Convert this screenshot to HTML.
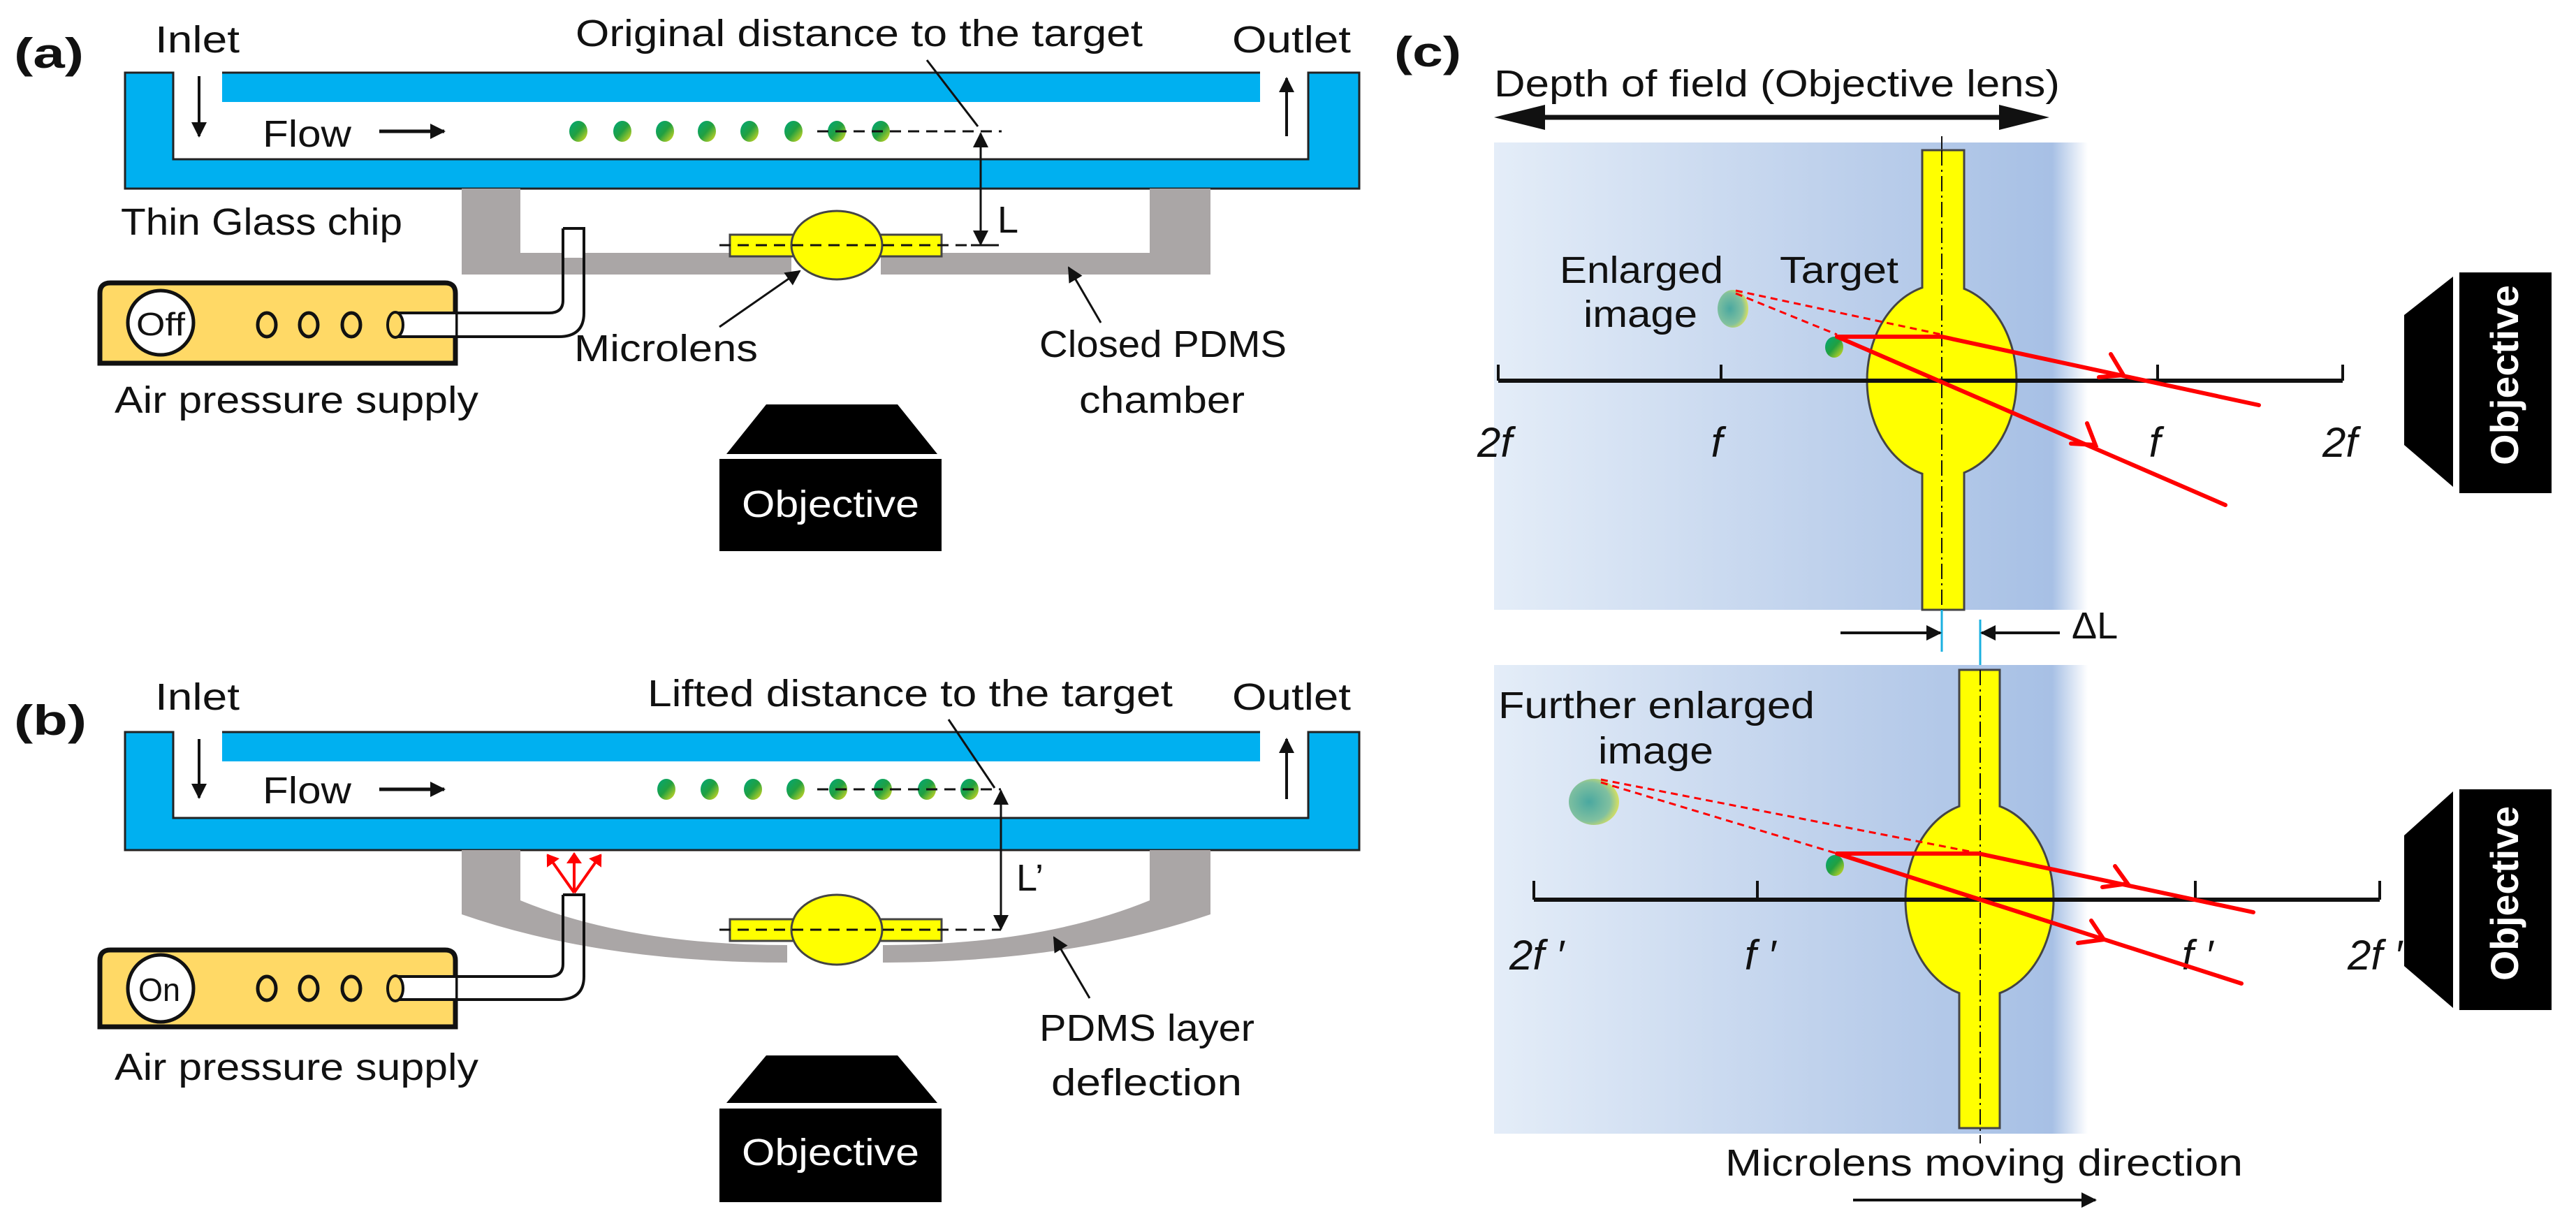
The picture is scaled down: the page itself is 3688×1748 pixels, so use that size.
<!DOCTYPE html>
<html><head><meta charset="utf-8"><style>
html,body{margin:0;padding:0;background:#fff}
svg{display:block}
text{font-family:"Liberation Sans",sans-serif;fill:#111}
</style></head><body>
<svg width="3688" height="1748" viewBox="0 0 3688 1748" xmlns="http://www.w3.org/2000/svg">
<defs>
<linearGradient id="bg" x1="0" x2="1" y1="0" y2="0">
<stop offset="0" stop-color="#e4edf8"/><stop offset="0.6" stop-color="#bccfeb"/><stop offset="0.94" stop-color="#a7c0e5"/><stop offset="1" stop-color="#ffffff"/>
</linearGradient>
<linearGradient id="pt" x1="0" x2="1" y1="0" y2="1">
<stop offset="0" stop-color="#00a878"/><stop offset="0.5" stop-color="#22a040"/><stop offset="1" stop-color="#e8e020"/>
</linearGradient>
<radialGradient id="blob" cx="0.4" cy="0.5" r="0.6">
<stop offset="0" stop-color="#4aa8a0"/><stop offset="0.7" stop-color="#80c0a0"/><stop offset="1" stop-color="#d8e060"/>
</radialGradient>
<marker id="ahB" markerWidth="22" markerHeight="22" refX="20" refY="11" orient="auto" markerUnits="userSpaceOnUse" viewBox="0 0 22 22"><path d="M0,0 L22,11 L0,22 z" fill="#111"/></marker>
<marker id="ahR" markerWidth="16" markerHeight="22" refX="14" refY="11" orient="auto" markerUnits="userSpaceOnUse" viewBox="0 0 16 22"><path d="M0,0 L16,11 L0,22 z" fill="#f00"/></marker>
</defs>

<!-- ================= PANEL A ================= -->
<text x="20" y="97" font-size="60" font-weight="bold" textLength="100" lengthAdjust="spacingAndGlyphs">(a)</text>
<text x="222" y="75" font-size="54" textLength="121" lengthAdjust="spacingAndGlyphs">Inlet</text>
<text x="824" y="66" font-size="54" textLength="812" lengthAdjust="spacingAndGlyphs">Original distance to the target</text>
<text x="1764" y="75" font-size="54" textLength="170" lengthAdjust="spacingAndGlyphs">Outlet</text>
<path d="M179,104 H248 V228 H1873 V104 H1946 V270 H179 Z" fill="#00b0f0" stroke="#222" stroke-width="3"/>
<rect x="318" y="104" width="1486" height="42" fill="#00b0f0"/>
<line x1="318" y1="104" x2="1804" y2="104" stroke="#222" stroke-width="3"/>
<line x1="285" y1="109" x2="285" y2="195" stroke="#111" stroke-width="4" marker-end="url(#ahB)"/>
<line x1="1842" y1="195" x2="1842" y2="112" stroke="#111" stroke-width="4" marker-end="url(#ahB)"/>
<text x="376" y="210" font-size="54" textLength="127" lengthAdjust="spacingAndGlyphs">Flow</text>
<line x1="543" y1="188" x2="636" y2="188" stroke="#111" stroke-width="5" marker-end="url(#ahB)"/>
<g fill="url(#pt)">
<ellipse cx="828" cy="188" rx="13" ry="15"/><ellipse cx="891" cy="188" rx="13" ry="15"/><ellipse cx="952" cy="188" rx="13" ry="15"/><ellipse cx="1012" cy="188" rx="13" ry="15"/><ellipse cx="1073" cy="188" rx="13" ry="15"/><ellipse cx="1136" cy="188" rx="13" ry="15"/><ellipse cx="1198" cy="188" rx="13" ry="15"/><ellipse cx="1261" cy="188" rx="13" ry="15"/>
</g>
<line x1="1170" y1="188" x2="1434" y2="188" stroke="#111" stroke-width="3" stroke-dasharray="16,10"/>
<line x1="1327" y1="86" x2="1400" y2="181" stroke="#111" stroke-width="3"/>
<path d="M661,270 H745 V362 H1133 V393 H661 Z" fill="#aaa6a6"/>
<path d="M1261,362 H1646 V270 H1733 V393 H1261 Z" fill="#aaa6a6"/>
<path d="M806,327 H836 V448 Q836,482 800,482 H570 M806,327 V430 Q806,448 786,448 H652" fill="none" stroke="#111" stroke-width="4"/>
<rect x="808" y="329" width="26" height="40" fill="#fff"/>
<path d="M806,327 H836" stroke="#111" stroke-width="4"/>
<path d="M143,520 V420 Q143,405 158,405 H637 Q652,405 652,420 V520 Z" fill="#ffd966" stroke="#111" stroke-width="7"/>
<path d="M570,448 H652 M570,482 H652" stroke="#111" stroke-width="4"/>
<rect x="574" y="450" width="78" height="30" fill="#fff"/>
<ellipse cx="566" cy="465" rx="11" ry="18" fill="#ffd966" stroke="#111" stroke-width="4"/>
<ellipse cx="230" cy="462" rx="47" ry="46" fill="#fff" stroke="#111" stroke-width="5"/>
<text x="230" y="480" font-size="46" text-anchor="middle" textLength="70" lengthAdjust="spacingAndGlyphs">Off</text>
<g fill="none" stroke="#111" stroke-width="5"><ellipse cx="382" cy="465" rx="13" ry="17"/><ellipse cx="442" cy="465" rx="13" ry="17"/><ellipse cx="503" cy="465" rx="13" ry="17"/></g>
<rect x="1045" y="336" width="303" height="31" fill="#ffff00" stroke="#444" stroke-width="3"/>
<ellipse cx="1198" cy="351" rx="65" ry="49" fill="#ffff00" stroke="#444" stroke-width="3"/>
<line x1="1030" y1="351" x2="1430" y2="351" stroke="#111" stroke-width="3" stroke-dasharray="16,10"/>
<line x1="1404" y1="270" x2="1404" y2="191" stroke="#111" stroke-width="3" marker-end="url(#ahB)"/>
<line x1="1404" y1="270" x2="1404" y2="350" stroke="#111" stroke-width="3" marker-end="url(#ahB)"/>
<line x1="1390" y1="351" x2="1430" y2="351" stroke="#111" stroke-width="3"/>
<text x="1428" y="333" font-size="54">L</text>
<text x="173" y="336" font-size="54" textLength="403" lengthAdjust="spacingAndGlyphs">Thin Glass chip</text>
<text x="164" y="591" font-size="54" textLength="521" lengthAdjust="spacingAndGlyphs">Air pressure supply</text>
<text x="822" y="517" font-size="54" textLength="263" lengthAdjust="spacingAndGlyphs">Microlens</text>
<line x1="1030" y1="468" x2="1145" y2="388" stroke="#111" stroke-width="3" marker-end="url(#ahB)"/>
<text x="1488" y="511" font-size="54" textLength="354" lengthAdjust="spacingAndGlyphs">Closed PDMS</text>
<text x="1545" y="591" font-size="54" textLength="237" lengthAdjust="spacingAndGlyphs">chamber</text>
<line x1="1576" y1="462" x2="1530" y2="383" stroke="#111" stroke-width="3" marker-end="url(#ahB)"/>
<path d="M1097,579 H1285 L1342,650 H1040 Z" fill="#000"/>
<rect x="1030" y="657" width="318" height="132" fill="#000"/>
<text x="1189" y="740" font-size="54" text-anchor="middle" textLength="254" lengthAdjust="spacingAndGlyphs" style="fill:#fff">Objective</text>

<!-- ================= PANEL B ================= -->
<text x="20" y="1052" font-size="60" font-weight="bold" textLength="104" lengthAdjust="spacingAndGlyphs">(b)</text>
<text x="222" y="1016" font-size="54" textLength="121" lengthAdjust="spacingAndGlyphs">Inlet</text>
<text x="927" y="1011" font-size="54" textLength="752" lengthAdjust="spacingAndGlyphs">Lifted distance to the target</text>
<text x="1764" y="1016" font-size="54" textLength="170" lengthAdjust="spacingAndGlyphs">Outlet</text>
<path d="M179,1048 H248 V1171 H1873 V1048 H1946 V1217 H179 Z" fill="#00b0f0" stroke="#222" stroke-width="3"/>
<rect x="318" y="1048" width="1486" height="42" fill="#00b0f0"/>
<line x1="318" y1="1048" x2="1804" y2="1048" stroke="#222" stroke-width="3"/>
<line x1="285" y1="1058" x2="285" y2="1142" stroke="#111" stroke-width="4" marker-end="url(#ahB)"/>
<line x1="1842" y1="1144" x2="1842" y2="1058" stroke="#111" stroke-width="4" marker-end="url(#ahB)"/>
<text x="376" y="1150" font-size="54" textLength="127" lengthAdjust="spacingAndGlyphs">Flow</text>
<line x1="543" y1="1130" x2="636" y2="1130" stroke="#111" stroke-width="5" marker-end="url(#ahB)"/>
<g fill="url(#pt)">
<ellipse cx="954" cy="1130" rx="13" ry="15"/><ellipse cx="1016" cy="1130" rx="13" ry="15"/><ellipse cx="1078" cy="1130" rx="13" ry="15"/><ellipse cx="1139" cy="1130" rx="13" ry="15"/><ellipse cx="1200" cy="1130" rx="13" ry="15"/><ellipse cx="1264" cy="1130" rx="13" ry="15"/><ellipse cx="1327" cy="1130" rx="13" ry="15"/><ellipse cx="1388" cy="1130" rx="13" ry="15"/>
</g>
<line x1="1170" y1="1130" x2="1433" y2="1130" stroke="#111" stroke-width="3" stroke-dasharray="16,10"/>
<line x1="1358" y1="1030" x2="1424" y2="1128" stroke="#111" stroke-width="3"/>
<path d="M661,1217 H745 V1289 Q900,1353 1127,1353 V1378 Q860,1378 661,1309 Z" fill="#aaa6a6"/>
<path d="M1646,1217 H1733 V1309 Q1530,1378 1264,1378 V1353 Q1490,1353 1646,1289 Z" fill="#aaa6a6"/>
<path d="M806,1281 H836 V1398 Q836,1431 800,1431 H570 M806,1281 V1380 Q806,1398 786,1398 H652" fill="none" stroke="#111" stroke-width="4"/>
<line x1="822" y1="1278" x2="784" y2="1224" stroke="#f00" stroke-width="4" marker-end="url(#ahR)"/>
<line x1="822" y1="1278" x2="822" y2="1222" stroke="#f00" stroke-width="4" marker-end="url(#ahR)"/>
<line x1="822" y1="1278" x2="860" y2="1224" stroke="#f00" stroke-width="4" marker-end="url(#ahR)"/>
<path d="M143,1470 V1375 Q143,1360 158,1360 H637 Q652,1360 652,1375 V1470 Z" fill="#ffd966" stroke="#111" stroke-width="7"/>
<path d="M570,1398 H652 M570,1431 H652" stroke="#111" stroke-width="4"/>
<rect x="574" y="1400" width="78" height="29" fill="#fff"/>
<ellipse cx="566" cy="1415" rx="11" ry="18" fill="#ffd966" stroke="#111" stroke-width="4"/>
<ellipse cx="230" cy="1415" rx="47" ry="48" fill="#fff" stroke="#111" stroke-width="5"/>
<text x="228" y="1433" font-size="46" text-anchor="middle" textLength="60" lengthAdjust="spacingAndGlyphs">On</text>
<g fill="none" stroke="#111" stroke-width="5"><ellipse cx="382" cy="1415" rx="13" ry="17"/><ellipse cx="442" cy="1415" rx="13" ry="17"/><ellipse cx="503" cy="1415" rx="13" ry="17"/></g>
<rect x="1045" y="1316" width="303" height="31" fill="#ffff00" stroke="#444" stroke-width="3"/>
<ellipse cx="1198" cy="1331" rx="65" ry="50" fill="#ffff00" stroke="#444" stroke-width="3"/>
<line x1="1030" y1="1331" x2="1433" y2="1331" stroke="#111" stroke-width="3" stroke-dasharray="16,10"/>
<line x1="1433" y1="1230" x2="1433" y2="1132" stroke="#111" stroke-width="3" marker-end="url(#ahB)"/>
<line x1="1433" y1="1230" x2="1433" y2="1330" stroke="#111" stroke-width="3" marker-end="url(#ahB)"/>
<text x="1455" y="1275" font-size="54">L’</text>
<text x="164" y="1546" font-size="54" textLength="521" lengthAdjust="spacingAndGlyphs">Air pressure supply</text>
<text x="1488" y="1490" font-size="54" textLength="308" lengthAdjust="spacingAndGlyphs">PDMS layer</text>
<text x="1505" y="1568" font-size="54" textLength="273" lengthAdjust="spacingAndGlyphs">deflection</text>
<line x1="1560" y1="1429" x2="1509" y2="1342" stroke="#111" stroke-width="3" marker-end="url(#ahB)"/>
<path d="M1097,1511 H1285 L1342,1579 H1040 Z" fill="#000"/>
<rect x="1030" y="1587" width="318" height="134" fill="#000"/>
<text x="1189" y="1668" font-size="54" text-anchor="middle" textLength="254" lengthAdjust="spacingAndGlyphs" style="fill:#fff">Objective</text>

<!-- ================= PANEL C ================= -->
<text x="1996" y="95" font-size="60" font-weight="bold" textLength="96" lengthAdjust="spacingAndGlyphs">(c)</text>
<text x="2139" y="138" font-size="54" textLength="810" lengthAdjust="spacingAndGlyphs">Depth of field (Objective lens)</text>
<line x1="2175" y1="168" x2="2900" y2="168" stroke="#111" stroke-width="7"/>
<path d="M2139,168 L2212,150 L2212,186 Z M2934,168 L2862,150 L2862,186 Z" fill="#111"/>
<rect x="2139" y="204" width="850" height="669" fill="url(#bg)"/>
<line x1="2780" y1="195" x2="2780" y2="933" stroke="#111" stroke-width="2" stroke-dasharray="22,6,3,6"/>
<rect x="2752" y="215" width="60" height="658" fill="#ffff00" stroke="#444" stroke-width="3"/>
<ellipse cx="2780" cy="545" rx="107" ry="138" fill="#ffff00" stroke="#444" stroke-width="3"/>
<rect x="2753.5" y="395" width="57" height="300" fill="#ffff00"/>
<line x1="2780" y1="215" x2="2780" y2="873" stroke="#111" stroke-width="2" stroke-dasharray="22,6,3,6"/>
<line x1="2145" y1="545" x2="3354" y2="545" stroke="#111" stroke-width="6"/>
<g stroke="#111" stroke-width="4"><line x1="2145" y1="522" x2="2145" y2="545"/><line x1="2464" y1="522" x2="2464" y2="545"/><line x1="3089" y1="522" x2="3089" y2="545"/><line x1="3354" y1="522" x2="3354" y2="545"/></g>
<g font-size="60" font-style="italic" text-anchor="middle">
<text x="2140" y="654">2f</text><text x="2458" y="654">f</text><text x="3085" y="654">f</text><text x="3350" y="654">2f</text>
</g>
<text x="2233" y="405" font-size="54" textLength="234" lengthAdjust="spacingAndGlyphs">Enlarged</text>
<text x="2267" y="468" font-size="54" textLength="163" lengthAdjust="spacingAndGlyphs">image</text>
<text x="2548" y="405" font-size="54" textLength="170" lengthAdjust="spacingAndGlyphs">Target</text>
<ellipse cx="2481" cy="442" rx="22" ry="27" fill="url(#blob)"/>
<ellipse cx="2626" cy="497" rx="13" ry="15" fill="url(#pt)"/>
<g stroke="#f00" stroke-width="3" stroke-dasharray="10,7" fill="none">
<line x1="2485" y1="416" x2="2780" y2="479"/><line x1="2485" y1="420" x2="2630" y2="479"/>
</g>
<g stroke="#f00" stroke-width="6" fill="none" stroke-linecap="round">
<polyline points="2630,482 2780,482 3234,580"/>
<line x1="2630" y1="482" x2="3186" y2="723"/>
<polyline points="3022,507 3040,537 3005,540"/>
<polyline points="2988,606 3000,637 2965,635"/>
</g>
<path d="M3442,451 L3512,396 V697 L3442,637 Z" fill="#000"/>
<rect x="3521" y="390" width="132" height="316" fill="#000"/>
<text transform="translate(3605,537) rotate(-90)" font-size="56" font-weight="bold" text-anchor="middle" textLength="258" lengthAdjust="spacingAndGlyphs" style="fill:#fff">Objective</text>

<line x1="2780" y1="873" x2="2780" y2="933" stroke="#1ab0e0" stroke-width="3"/>
<line x1="2835" y1="887" x2="2835" y2="960" stroke="#1ab0e0" stroke-width="3"/>
<line x1="2635" y1="906" x2="2778" y2="906" stroke="#111" stroke-width="4" marker-end="url(#ahB)"/>
<line x1="2949" y1="906" x2="2837" y2="906" stroke="#111" stroke-width="4" marker-end="url(#ahB)"/>
<text x="2966" y="914" font-size="54">ΔL</text>

<rect x="2139" y="952" width="850" height="671" fill="url(#bg)"/>
<rect x="2805" y="959" width="58" height="656" fill="#ffff00" stroke="#444" stroke-width="3"/>
<ellipse cx="2834" cy="1288" rx="106" ry="139" fill="#ffff00" stroke="#444" stroke-width="3"/>
<rect x="2806.5" y="1138" width="55" height="300" fill="#ffff00"/>
<line x1="2835" y1="959" x2="2835" y2="1637" stroke="#111" stroke-width="2" stroke-dasharray="22,6,3,6"/>
<line x1="2196" y1="1288" x2="3407" y2="1288" stroke="#111" stroke-width="6"/>
<g stroke="#111" stroke-width="4"><line x1="2196" y1="1261" x2="2196" y2="1288"/><line x1="2516" y1="1261" x2="2516" y2="1288"/><line x1="3143" y1="1261" x2="3143" y2="1288"/><line x1="3407" y1="1261" x2="3407" y2="1288"/></g>
<g font-size="60" font-style="italic" text-anchor="middle">
<text x="2200" y="1388">2f ′</text><text x="2520" y="1388">f ′</text><text x="3146" y="1388">f ′</text><text x="3400" y="1388">2f ′</text>
</g>
<text x="2145" y="1028" font-size="54" textLength="453" lengthAdjust="spacingAndGlyphs">Further enlarged</text>
<text x="2288" y="1093" font-size="54" textLength="165" lengthAdjust="spacingAndGlyphs">image</text>
<ellipse cx="2282" cy="1148" rx="36" ry="33" fill="url(#blob)"/>
<ellipse cx="2627" cy="1239" rx="13" ry="15" fill="url(#pt)"/>
<g stroke="#f00" stroke-width="3" stroke-dasharray="10,7" fill="none">
<line x1="2292" y1="1116" x2="2820" y2="1219"/><line x1="2292" y1="1120" x2="2630" y2="1222"/>
</g>
<g stroke="#f00" stroke-width="6" fill="none" stroke-linecap="round">
<polyline points="2630,1222 2833,1222 3226,1306"/>
<line x1="2630" y1="1222" x2="3209" y2="1408"/>
<polyline points="3028,1240 3046,1265 3010,1270"/>
<polyline points="2994,1318 3012,1345 2975,1350"/>
</g>
<path d="M3442,1196 L3512,1133 V1443 L3442,1383 Z" fill="#000"/>
<rect x="3521" y="1130" width="132" height="316" fill="#000"/>
<text transform="translate(3605,1279) rotate(-90)" font-size="56" font-weight="bold" text-anchor="middle" textLength="250" lengthAdjust="spacingAndGlyphs" style="fill:#fff">Objective</text>
<text x="2470" y="1683" font-size="54" textLength="741" lengthAdjust="spacingAndGlyphs">Microlens moving direction</text>
<line x1="2653" y1="1718" x2="3000" y2="1718" stroke="#111" stroke-width="4" marker-end="url(#ahB)"/>
</svg>
</body></html>
